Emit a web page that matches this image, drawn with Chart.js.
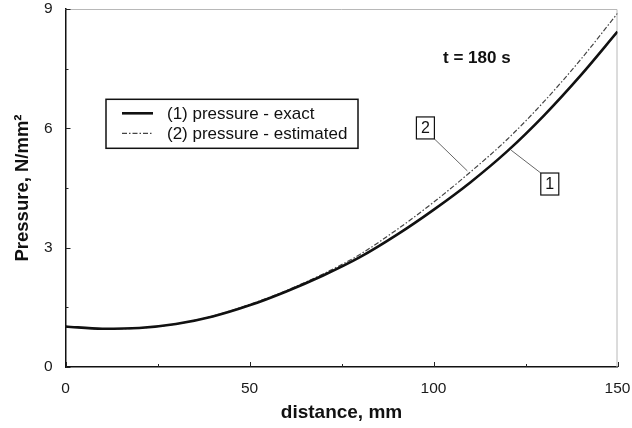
<!DOCTYPE html>
<html>
<head>
<meta charset="utf-8">
<title>Pressure vs distance</title>
<script src="https://cdn.jsdelivr.net/npm/chart.js@4.4.1/dist/chart.umd.min.js"></script>
<style>
  html, body { margin: 0; padding: 0; background: #fff; }
  #wrap { width: 632px; height: 428px; }
</style>
</head>
<body>
<div id="wrap"><canvas id="chart" width="632" height="428"></canvas></div>
<script>
  // values (t = 180 s)
  const distance = [0, 10, 20, 30, 40, 50, 60, 70, 80, 90, 100, 110, 120, 130, 140, 150];
  const pressureExact = [1.02, 0.96, 0.98, 1.08, 1.27, 1.55, 1.90, 2.30, 2.76, 3.32, 3.95, 4.64, 5.42, 6.32, 7.33, 8.43];
  const pressureEstimated = [1.02, 0.96, 0.98, 1.08, 1.28, 1.57, 1.92, 2.34, 2.83, 3.45, 4.14, 4.90, 5.72, 6.67, 7.73, 8.89];
  const xTicks = [0, 50, 100, 150];
  const yTicks = [0, 3, 6, 9];
  const seriesLabels = ['(1) pressure - exact', '(2) pressure - estimated'];
  const timeLabel = 't = 180 s';

  const FONT = '"Liberation Sans", Arial, Helvetica, sans-serif';

  function toPoints(xs, ys) {
    return xs.map((x, i) => ({ x: x, y: ys[i] }));
  }

  // gray top/right frame, inward tick marks, legend box and numbered callouts
  const decorPlugin = {
    id: 'decor',
    beforeDatasetsDraw(chart) {
      const { ctx, chartArea: ca } = chart;
      ctx.save();
      ctx.strokeStyle = '#b8b8b8';
      ctx.lineWidth = 1;
      ctx.beginPath();
      ctx.moveTo(ca.left, ca.top + 0.5);
      ctx.lineTo(ca.right - 0.5, ca.top + 0.5);
      ctx.lineTo(ca.right - 0.5, ca.bottom);
      ctx.stroke();
      ctx.restore();
    },
    afterDatasetsDraw(chart, args, opts) {
      const { ctx, chartArea: ca, scales } = chart;
      const xs = scales.x, ys = scales.y;
      ctx.save();

      // tick marks pointing into the plot
      ctx.strokeStyle = '#222';
      ctx.lineWidth = 1;
      for (let v = 0; v <= 150; v += 25) {
        const px = Math.round(xs.getPixelForValue(v)) + 0.5;
        const len = v % 50 === 0 ? 5 : 3;
        ctx.beginPath();
        ctx.moveTo(px, ca.bottom);
        ctx.lineTo(px, ca.bottom - len);
        ctx.stroke();
      }
      for (let v = 0; v <= 9; v += 1.5) {
        const py = Math.round(ys.getPixelForValue(v)) + 0.5;
        const len = v % 3 === 0 ? 5 : 3;
        ctx.beginPath();
        ctx.moveTo(ca.left, py);
        ctx.lineTo(ca.left + len, py);
        ctx.stroke();
      }

      // legend
      const lg = opts.legend;
      const bx = ca.left + lg.left, by = ca.top + lg.top;
      ctx.fillStyle = '#fff';
      ctx.fillRect(bx, by, lg.width, lg.height);
      ctx.strokeStyle = '#111';
      ctx.lineWidth = 1.5;
      ctx.strokeRect(bx, by, lg.width, lg.height);
      ctx.font = '17px ' + FONT;
      ctx.textBaseline = 'middle';
      ctx.textAlign = 'left';
      chart.data.datasets.forEach((ds, i) => {
        const ly = by + 14 + i * 20;
        ctx.beginPath();
        ctx.strokeStyle = ds.borderColor;
        ctx.lineWidth = ds.borderWidth;
        ctx.setLineDash(ds.borderDash || []);
        ctx.moveTo(bx + 16, ly);
        ctx.lineTo(bx + 47, ly);
        ctx.stroke();
        ctx.setLineDash([]);
        ctx.fillStyle = '#111';
        ctx.fillText(ds.label, bx + 61, ly + 1);
      });

      // time stamp
      ctx.font = 'bold 17px ' + FONT;
      ctx.fillStyle = '#111';
      ctx.fillText(timeLabel, xs.getPixelForValue(opts.time[0]), ys.getPixelForValue(opts.time[1]));

      // numbered callouts with leader lines
      opts.callouts.forEach(c => {
        const cx = xs.getPixelForValue(c.box[0]);
        const cy = ys.getPixelForValue(c.box[1]);
        const tx = xs.getPixelForValue(c.target[0]);
        const ty = ys.getPixelForValue(c.target[1]);
        const w = 18, h = 22;
        const sx = tx > cx ? cx + w / 2 : cx - w / 2;
        const sy = ty > cy ? cy + h / 2 : cy - h / 2;
        ctx.beginPath();
        ctx.strokeStyle = '#666';
        ctx.lineWidth = 1;
        ctx.moveTo(sx, sy);
        ctx.lineTo(tx, ty);
        ctx.stroke();
        ctx.fillStyle = '#fff';
        ctx.fillRect(cx - w / 2, cy - h / 2, w, h);
        ctx.strokeStyle = '#111';
        ctx.lineWidth = 1.2;
        ctx.strokeRect(cx - w / 2, cy - h / 2, w, h);
        ctx.font = '16px ' + FONT;
        ctx.fillStyle = '#111';
        ctx.textAlign = 'center';
        ctx.fillText(c.text, cx, cy + 1);
        ctx.textAlign = 'left';
      });

      ctx.restore();
    }
  };

  document.addEventListener('DOMContentLoaded', function () {
    const ctx = document.getElementById('chart').getContext('2d');
    new Chart(ctx, {
      type: 'line',
      data: {
        datasets: [
          {
            label: seriesLabels[0],
            data: toPoints(distance, pressureExact),
            borderColor: '#111',
            borderWidth: 2.6,
            pointRadius: 0,
            cubicInterpolationMode: 'monotone',
            fill: false
          },
          {
            label: seriesLabels[1],
            data: toPoints(distance, pressureEstimated),
            borderColor: '#444',
            borderWidth: 1.2,
            borderDash: [5, 2, 1.5, 2],
            pointRadius: 0,
            cubicInterpolationMode: 'monotone',
            fill: false
          }
        ]
      },
      options: {
        responsive: false,
        animation: false,
        devicePixelRatio: 1,
        layout: { padding: 0 },
        plugins: {
          legend: { display: false },
          tooltip: { enabled: false },
          decor: {
            legend: { left: 40.5, top: 90.3, width: 252, height: 49 },
            time: [102.6, 7.76],
            callouts: [
              { text: '2', box: [97.8, 6.01], target: [109.2, 4.93] },
              { text: '1', box: [131.6, 4.60], target: [121.1, 5.45] }
            ]
          }
        },
        scales: {
          x: {
            type: 'linear',
            min: 0,
            max: 150,
            afterBuildTicks: s => { s.ticks = xTicks.map(v => ({ value: v })); },
            afterFit: s => { s.height = 61; s.paddingLeft = 0; s.paddingRight = 14.5; },
            grid: { display: false, drawTicks: false, tickLength: 0 },
            border: { display: true, color: '#111', width: 1.5 },
            ticks: { color: '#1a1a1a', padding: 12, maxRotation: 0, font: { family: FONT, size: 15.5 } },
            title: {
              display: true,
              text: 'distance, mm',
              color: '#111',
              padding: { top: 0, bottom: 4 },
              font: { family: FONT, size: 19, weight: 'bold' }
            }
          },
          y: {
            type: 'linear',
            min: 0,
            max: 9,
            afterBuildTicks: s => { s.ticks = yTicks.map(v => ({ value: v })); },
            afterFit: s => { s.width = 65.5; s.paddingTop = 9; s.paddingBottom = 0; },
            grid: { display: false, drawTicks: false, tickLength: 0 },
            border: { display: true, color: '#111', width: 1.5 },
            ticks: { color: '#1a1a1a', padding: 13, font: { family: FONT, size: 15.5 } },
            title: {
              display: true,
              text: 'Pressure, N/mm\u00B2',
              color: '#111',
              padding: { top: 12, bottom: 0 },
              font: { family: FONT, size: 18.5, weight: 'bold' }
            }
          }
        }
      },
      plugins: [decorPlugin]
    });
  });
</script>
</body>
</html>
